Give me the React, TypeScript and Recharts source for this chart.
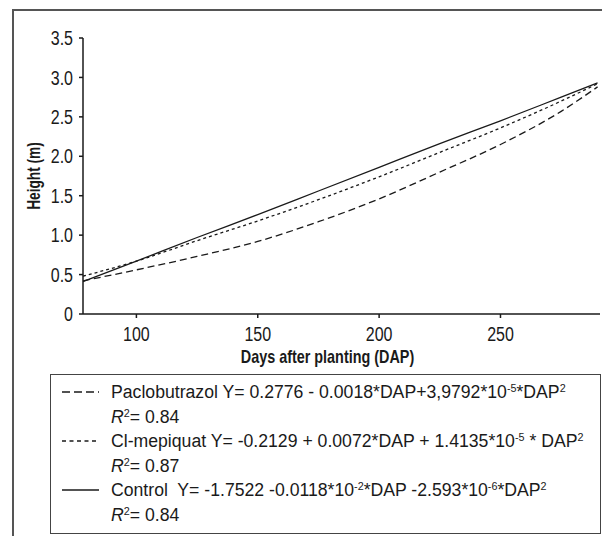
import { Line, LineChart, XAxis, YAxis } from "recharts";

// days after planting at which the fitted curves were read
const dap = [78, 100, 125, 150, 175, 200, 225, 250, 275, 290];
const paclobutrazol = [0.42, 0.56, 0.73, 0.92, 1.17, 1.46, 1.8, 2.15, 2.57, 2.88];
const clMepiquat = [0.48, 0.67, 0.93, 1.18, 1.45, 1.74, 2.05, 2.36, 2.7, 2.92];
const control = [0.41, 0.67, 0.97, 1.26, 1.56, 1.86, 2.16, 2.45, 2.75, 2.93];

const xTicks = [100, 150, 200, 250];
const yTicks = [0, 0.5, 1, 1.5, 2, 2.5, 3, 3.5];

const rows = dap.map((d, i) => ({
  dap: d,
  paclobutrazol: paclobutrazol[i],
  clMepiquat: clMepiquat[i],
  control: control[i],
}));

const FONT = "'Liberation Sans', Arial, sans-serif";
const INK = "#1a1a1a";
const SQUEEZE = 0.8; // fake a condensed face on the axes
const LEGEND_SQUEEZE = 0.98;

const sup = { fontSize: 11, verticalAlign: "6px", lineHeight: 0 } as const;

function XTick({ x, y, payload }: any) {
  return (
    <g transform={`translate(${x},${y})`}>
      <text transform={`scale(${SQUEEZE},1)`} textAnchor="middle" dy="0.71em" fontSize={20} fill={INK} fontFamily={FONT}>
        {payload.value}
      </text>
    </g>
  );
}

function YTick({ x, y, payload }: any) {
  const v = payload.value as number;
  return (
    <g transform={`translate(${x},${y})`}>
      <text transform={`scale(${SQUEEZE},1)`} textAnchor="end" dy="0.36em" fontSize={20} fill={INK} fontFamily={FONT}>
        {v === 0 ? "0" : v.toFixed(1)}
      </text>
    </g>
  );
}

function XTitle({ viewBox }: any) {
  const cx = viewBox.x + viewBox.width / 2 - 14;
  const y = viewBox.y + 49;
  return (
    <g transform={`translate(${cx},${y})`}>
      <text transform={`scale(${SQUEEZE},1)`} textAnchor="middle" fontSize={18} fontWeight={700} fill={INK} fontFamily={FONT}>
        Days after planting (DAP)
      </text>
    </g>
  );
}

function YTitle({ viewBox }: any) {
  const cx = 25.5;
  const cy = viewBox.y + viewBox.height / 2;
  return (
    <g transform={`translate(${cx},${cy}) rotate(-90)`}>
      <text transform={`scale(0.76,1)`} textAnchor="middle" dy="0.36em" fontSize={18} fontWeight={700} fill={INK} fontFamily={FONT}>
        Height (m)
      </text>
    </g>
  );
}

function Sample({ dash }: { dash?: string }) {
  return (
    <svg width={38} height={10} style={{ position: "absolute", left: 11, top: 7 }}>
      <line x1={0} y1={5} x2={37} y2={5} stroke={INK} strokeWidth={1.3} strokeDasharray={dash} />
    </svg>
  );
}

function Row({ children, dash, line }: { children: React.ReactNode; dash?: string; line?: boolean }) {
  return (
    <div style={{ position: "relative", height: 24.6, lineHeight: "24.6px", paddingLeft: 60, whiteSpace: "nowrap" }}>
      {line && <Sample dash={dash} />}
      <span style={{ display: "inline-block", transform: `scaleX(${LEGEND_SQUEEZE})`, transformOrigin: "left center" }}>
        {children}
      </span>
    </div>
  );
}

function R2({ v }: { v: string }) {
  return (
    <>
      <i>R</i>
      <span style={sup}>2</span>= {v}
    </>
  );
}

export default function App() {
  return (
    <div style={{ position: "relative", width: 600, height: 528, overflow: "hidden", fontFamily: FONT, color: INK }}>
      <div style={{ position: "absolute", left: 4, top: 1, width: 800, height: 800, border: "2px solid #555" }} />
      <LineChart
        width={600}
        height={380}
        data={rows}
        margin={{ top: 30, right: 8, left: 10, bottom: 0 }}
        style={{ position: "absolute", left: 0, top: 0 }}
      >
        <XAxis
          dataKey="dap"
          type="number"
          domain={[78, 291]}
          ticks={xTicks}
          allowDataOverflow
          height={74}
          stroke={INK}
          strokeWidth={1.5}
          tickSize={4}
          tickMargin={9}
          tick={<XTick />}
          label={<XTitle />}
        />
        <YAxis
          type="number"
          domain={[0, 3.5]}
          ticks={yTicks}
          width={65}
          stroke={INK}
          strokeWidth={1.5}
          tickSize={4}
          tickMargin={6}
          tick={<YTick />}
          label={<YTitle />}
        />
        <Line
          type="monotone"
          dataKey="paclobutrazol"
          stroke={INK}
          strokeWidth={1.3}
          strokeDasharray="7 4"
          dot={false}
          isAnimationActive={false}
        />
        <Line
          type="monotone"
          dataKey="clMepiquat"
          stroke={INK}
          strokeWidth={1.3}
          strokeDasharray="3 3"
          dot={false}
          isAnimationActive={false}
        />
        <Line
          type="monotone"
          dataKey="control"
          stroke={INK}
          strokeWidth={1.3}
          dot={false}
          isAnimationActive={false}
        />
      </LineChart>
      <div
        style={{
          position: "absolute",
          left: 42,
          top: 366,
          width: 549,
          height: 153,
          border: "1px solid #444",
          paddingTop: 5,
          fontSize: 18,
          boxSizing: "content-box",
        }}
      >
        <Row line dash="8 4">
          Paclobutrazol Y= 0.2776 - 0.0018*DAP+3,9792*10<span style={sup}>-5</span>*DAP<span style={sup}>2</span>
        </Row>
        <Row>
          <R2 v="0.84" />
        </Row>
        <Row line dash="4 3.5">
          Cl-mepiquat Y= -0.2129 + 0.0072*DAP + 1.4135*10<span style={sup}>-5</span> * DAP<span style={sup}>2</span>
        </Row>
        <Row>
          <R2 v="0.87" />
        </Row>
        <Row line>
          Control&nbsp; Y= -1.7522 -0.0118*10<span style={sup}>-2</span>*DAP -2.593*10<span style={sup}>-6</span>*DAP<span style={sup}>2</span>
        </Row>
        <Row>
          <R2 v="0.84" />
        </Row>
      </div>
    </div>
  );
}
